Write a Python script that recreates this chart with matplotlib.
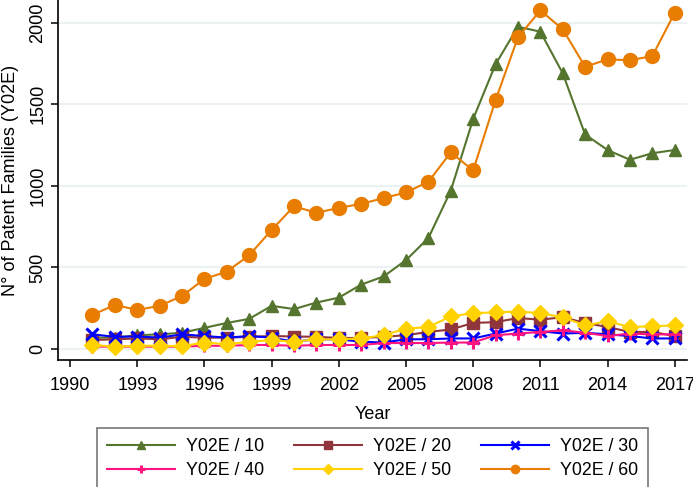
import matplotlib
matplotlib.use("Agg")
import matplotlib.pyplot as plt

plt.rcParams['font.family'] = ['Liberation Sans', 'DejaVu Sans']

years = list(range(1991, 2018))

y02e_10 = [70, 70, 85, 90, 100, 130, 160, 185, 265, 245, 285, 315, 395, 445, 545, 680,
           970, 1410, 1745, 1975, 1945, 1690, 1315, 1220, 1160, 1200, 1220]
y02e_20 = [55, 60, 65, 60, 75, 70, 70, 75, 80, 77, 75, 68, 68, 75, 85, 105,
           120, 160, 165, 190, 180, 195, 160, 135, 105, 105, 80]
y02e_30 = [90, 75, 77, 70, 90, 80, 70, 80, 70, 45, 60, 60, 45, 40, 60, 60,
           65, 65, 95, 125, 110, 95, 100, 90, 80, 65, 65]
y02e_40 = [15, 15, 15, 15, 15, 20, 20, 25, 25, 20, 25, 25, 25, 37, 37, 37,
           40, 40, 85, 95, 105, 115, 100, 80, 95, 90, 90]
y02e_50 = [25, 15, 20, 20, 18, 40, 30, 45, 55, 45, 60, 60, 65, 85, 125, 135,
           200, 220, 225, 230, 220, 195, 145, 170, 135, 140, 145]
y02e_60 = [210, 270, 240, 265, 325, 430, 475, 575, 730, 875, 835, 865, 890, 925, 960, 1025,
           1205, 1095, 1525, 1910, 2075, 1960, 1730, 1775, 1770, 1795, 2060]

labels = ["Y02E / 10", "Y02E / 20", "Y02E / 30", "Y02E / 40", "Y02E / 50", "Y02E / 60"]
x_ticks = list(range(1990, 2018, 3))
y_ticks = [0, 500, 1000, 1500, 2000]

series = [y02e_10, y02e_20, y02e_30, y02e_40, y02e_50, y02e_60]
colors = ["#55752f", "#90353b", "#0000ff", "#ff1480", "#ffd200", "#e87d02"]
markers = ["^", "s", "x", "+", "D", "o"]
msizes = [9, 9, 9, 9, 8, 10]
mews = [1, 1, 2.2, 2.2, 1, 1]

fig = plt.figure(figsize=(6.93, 4.87), dpi=100)
ax = fig.add_axes([58 / 693, 1 - 360 / 487, (687 - 58) / 693, 360 / 487])

for vals, c, m, ms, mew, lab in zip(series, colors, markers, msizes, mews, labels):
    ax.plot(years, vals, color=c, marker=m, markersize=ms, markeredgewidth=mew,
            linewidth=1.5, label=lab)

ax.set_xlim(1989.46, 2017.55)
ax.set_ylim(-67, 2139)
ax.set_xticks(x_ticks)
ax.set_yticks(y_ticks)
ax.grid(axis='y', color='#eaf2f3', linewidth=1.5)
ax.set_axisbelow(True)
for s in ['top', 'right']:
    ax.spines[s].set_visible(False)
for s in ['left', 'bottom']:
    ax.spines[s].set_linewidth(1.2)
ax.tick_params(axis='both', labelsize=13, length=5, width=1.1)
ax.tick_params(axis='x', pad=7)
for t in ax.get_yticklabels():
    t.set_rotation(90)
    t.set_va('center')
ax.set_xlabel("Year", fontsize=13, labelpad=9)
ax.set_ylabel("N° of Patent Families (Y02E)", fontsize=13, labelpad=7)

handles, labs = ax.get_legend_handles_labels()
order = [0, 3, 1, 4, 2, 5]
leg = fig.legend([handles[i] for i in order], [labs[i] for i in order],
                 ncol=3, loc='upper center',
                 bbox_to_anchor=(372.5 / 693, 1 - 428 / 487),
                 borderaxespad=0.0,
                 fontsize=12.8, frameon=True, fancybox=False,
                 edgecolor='#555555', handlelength=3.8, markerscale=0.6,
                 borderpad=0.55, labelspacing=0.4, columnspacing=1.7,
                 handletextpad=0.62)
leg.get_frame().set_linewidth(1.2)

fig.savefig("out.png", dpi=100)
